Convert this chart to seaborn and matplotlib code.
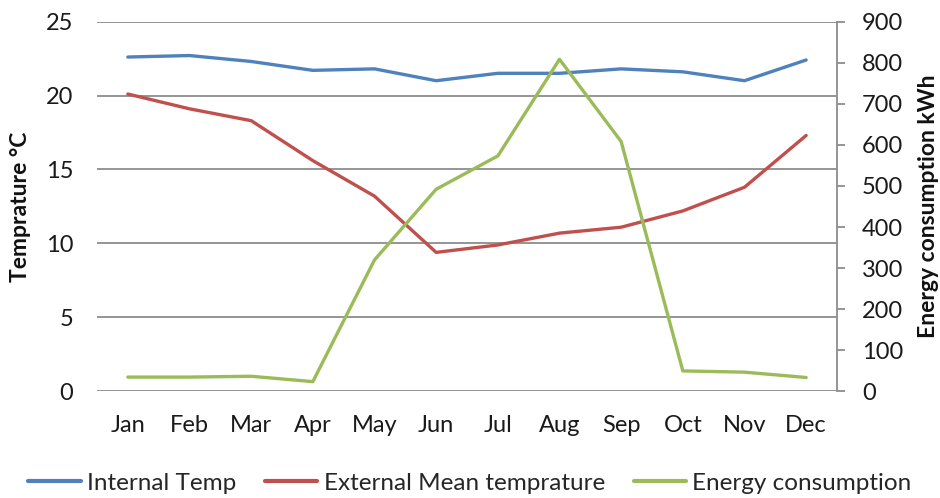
import matplotlib
matplotlib.use("Agg")
import matplotlib.pyplot as plt
import seaborn as sns
import pandas as pd
from matplotlib.lines import Line2D

months = ["Jan", "Feb", "Mar", "Apr", "May", "Jun", "Jul", "Aug", "Sep", "Oct", "Nov", "Dec"]
internal_temp = [22.6, 22.7, 22.3, 21.7, 21.8, 21.0, 21.5, 21.5, 21.8, 21.6, 21.0, 22.4]
external_temp = [20.1, 19.1, 18.3, 15.6, 13.2, 9.4, 9.9, 10.7, 11.1, 12.2, 13.8, 17.3]
energy_kwh = [35, 35, 37, 24, 320, 492, 573, 808, 608, 50, 47, 34]

sns.set_theme(style="white")
plt.rcParams["font.family"] = ["Lato", "DejaVu Sans"]

blue, red, green = "#4F81BD", "#C0504D", "#9BBB59"
grid_c = "#8C8C8C"

df = pd.DataFrame({"month": months, "internal": internal_temp,
                   "external": external_temp, "energy": energy_kwh})

fig = plt.figure(figsize=(9.4, 4.98), dpi=100)
ax = fig.add_axes([0.1032, 0.2139, 0.7872, 0.7429])
ax2 = ax.twinx()

sns.lineplot(data=df, x="month", y="internal", ax=ax, color=blue, lw=2.4, sort=False)
sns.lineplot(data=df, x="month", y="external", ax=ax, color=red, lw=2.4, sort=False)
sns.lineplot(data=df, x="month", y="energy", ax=ax2, color=green, lw=2.4, sort=False)

ax.set_xlim(-0.5, len(months) - 0.5)
ax.set_ylim(0, 25)
ax.set_yticks(range(0, 26, 5))
ax2.set_ylim(0, 900)
ax2.set_yticks(range(0, 901, 100))

ax.yaxis.grid(True, color=grid_c, lw=1.3)
ax.set_axisbelow(True)
for s in ["left", "top", "right", "bottom"]:
    ax.spines[s].set_visible(False)
for s in ["left", "top", "bottom"]:
    ax2.spines[s].set_visible(False)
ax2.spines["right"].set_color(grid_c)
ax2.spines["right"].set_linewidth(1.3)

ax.tick_params(axis="y", length=0, pad=17, labelsize=17, colors="#1a1a1a")
ax.tick_params(axis="x", length=0, pad=17, labelsize=17, colors="#1a1a1a")
ax2.tick_params(axis="y", length=6, width=1.3, color=grid_c, pad=12,
                labelsize=17, labelcolor="#1a1a1a", direction="out")

ax.set_xlabel("")
ax.set_ylabel("")
ax2.set_ylabel("")
fig.text(0.0223, 0.585, "Temprature °C", rotation=90, ha="center", va="center",
         fontsize=16.5, fontweight="bold", color="#111111")
fig.text(0.988, 0.585, "Energy consumption kWh", rotation=90, ha="center", va="center",
         fontsize=16.5, fontweight="bold", color="#111111")

handles = [Line2D([], [], color=blue, lw=3), Line2D([], [], color=red, lw=3),
           Line2D([], [], color=green, lw=3)]
labels = ["Internal Temp", "External Mean temprature", "Energy consumption"]
fig.legend(handles, labels, loc="center", bbox_to_anchor=(0.5, 0.03), ncol=3,
           frameon=False, fontsize=17.5, handlelength=2.15, handletextpad=0.25,
           columnspacing=1.2)

fig.savefig("out.png", dpi=100)
